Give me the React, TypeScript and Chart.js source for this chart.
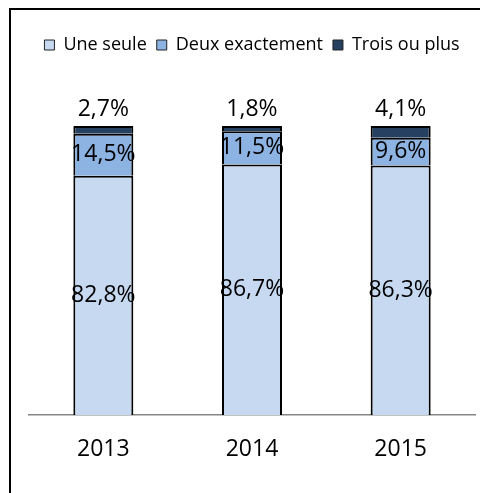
import React, { useEffect, useRef } from "react";
import { Chart, registerables } from "chart.js";

Chart.register(...registerables);

const YEARS = ["2013", "2014", "2015"];
const UNE_SEULE = [82.8, 86.7, 86.3];
const DEUX_EXACTEMENT = [14.5, 11.5, 9.6];
const TROIS_OU_PLUS = [2.7, 1.8, 4.1];
const SERIES_NAMES = ["Une seule", "Deux exactement", "Trois ou plus"];
const SERIES_COLORS = ["#C6D9F1", "#8DB3E2", "#254061"];

const FONT = "'Open Sans', 'Noto Sans', sans-serif";

const fmt = (v: number) => v.toFixed(1).replace(".", ",") + "%";

const legendSpacer = {
  id: "legendSpacer",
  beforeLayout(chart: any) {
    const lg = chart.legend;
    if (lg && !lg.__patched) {
      const orig = lg.fit.bind(lg);
      lg.fit = function () {
        orig();
        this.height = 100;
      };
      lg.__patched = true;
    }
  },
};

const valueLabels = {
  id: "valueLabels",
  afterDatasetsDraw(chart: any) {
    const ctx = chart.ctx;
    ctx.save();
    ctx.font = `23px ${FONT}`;
    ctx.fillStyle = "#000";
    ctx.textAlign = "center";
    ctx.textBaseline = "middle";
    chart.data.datasets.forEach((ds: any, di: number) => {
      const meta = chart.getDatasetMeta(di);
      meta.data.forEach((el: any, i: number) => {
        const { x, y, base } = el.getProps(["x", "y", "base"], true);
        const v = ds.data[i];
        if (di === chart.data.datasets.length - 1) {
          ctx.fillText(fmt(v), x, y - 17);
        } else {
          ctx.fillText(fmt(v), x, (y + base) / 2);
        }
      });
    });
    ctx.restore();
  },
};

export default function App() {
  const ref = useRef<HTMLCanvasElement | null>(null);

  useEffect(() => {
    if (!ref.current) return;
    const seriesData = [UNE_SEULE, DEUX_EXACTEMENT, TROIS_OU_PLUS];
    const chart = new Chart(ref.current, {
      type: "bar",
      data: {
        labels: YEARS,
        datasets: seriesData.map((d, i) => ({
          label: SERIES_NAMES[i],
          data: d,
          backgroundColor: SERIES_COLORS[i],
          borderColor: "#000",
          borderWidth: 2,
        })),
      },
      options: {
        animation: false,
        responsive: false,
        devicePixelRatio: 1,
        layout: { padding: { left: 29, right: 5, top: 26, bottom: 0 } },
        datasets: { bar: { categoryPercentage: 1, barPercentage: 0.4036 } },
        scales: {
          x: {
            stacked: true,
            grid: { display: false, drawTicks: false },
            border: { display: true, color: "#868686", width: 1.5 },
            ticks: { font: { family: FONT, size: 23 }, color: "#000", padding: 21 },
            afterFit(s: any) {
              s.height = 78;
            },
          },
          y: { stacked: true, display: false, min: 0, max: 100 },
        },
        plugins: {
          legend: {
            position: "top",
            labels: {
              font: { family: FONT, size: 18 },
              color: "#000",
              boxWidth: 10,
              boxHeight: 10,
              padding: 10,
              generateLabels(chart: any) {
                const items = (Chart as any).defaults.plugins.legend.labels.generateLabels(chart);
                return items.map((it: any) => ({ ...it, lineWidth: 1, strokeStyle: "#222" }));
              },
            },
          },
          tooltip: { enabled: false },
        },
      } as any,
      plugins: [legendSpacer, valueLabels],
    });
    return () => chart.destroy();
  }, []);

  return (
    <div
      style={{
        position: "absolute",
        left: 0,
        top: 0,
        width: 480,
        height: 493,
        overflow: "hidden",
        background: "#fff",
      }}
    >
      <canvas
        ref={ref}
        width={480}
        height={493}
        style={{ position: "absolute", left: 0, top: 0, width: 480, height: 493 }}
      />
      <div
        style={{
          position: "absolute",
          left: 9,
          top: 8,
          width: 520,
          height: 520,
          borderLeft: "2px solid #000",
          borderTop: "2px solid #000",
          pointerEvents: "none",
        }}
      />
    </div>
  );
}
